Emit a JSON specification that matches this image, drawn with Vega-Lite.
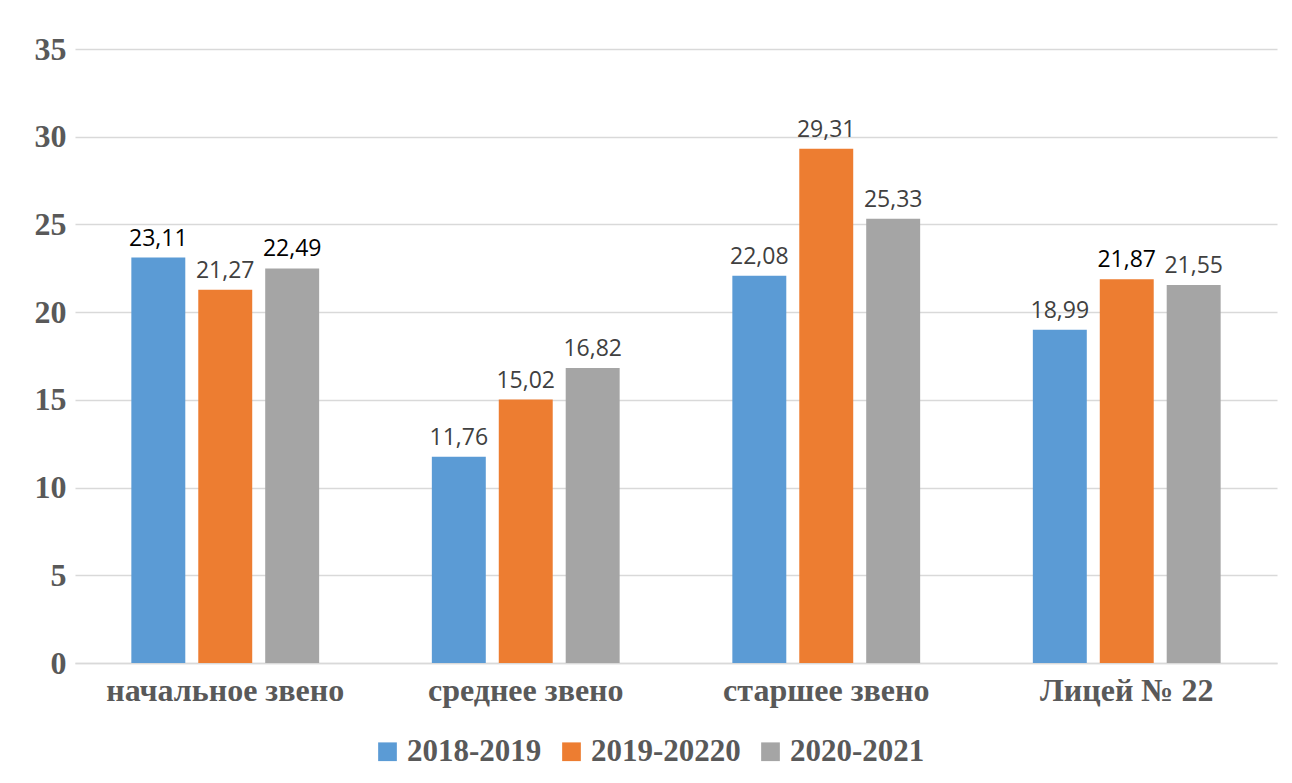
{
  "$schema": "https://vega.github.io/schema/vega-lite/v6.json",
  "width": 1202,
  "height": 614,
  "autosize": {"type": "none"},
  "padding": {"left": 75, "top": 49, "right": 15, "bottom": 120},
  "background": "white",
  "config": {
    "view": {"stroke": null},
    "locale": {"number": {"decimal": ",", "thousands": " ", "grouping": [3], "currency": ["", ""]}}
  },
  "data": {
    "values": [
      {"group": "начальное звено", "year": "2018-2019", "value": 23.11},
      {"group": "начальное звено", "year": "2019-20220", "value": 21.27},
      {"group": "начальное звено", "year": "2020-2021", "value": 22.49},
      {"group": "среднее звено", "year": "2018-2019", "value": 11.76},
      {"group": "среднее звено", "year": "2019-20220", "value": 15.02},
      {"group": "среднее звено", "year": "2020-2021", "value": 16.82},
      {"group": "старшее звено", "year": "2018-2019", "value": 22.08},
      {"group": "старшее звено", "year": "2019-20220", "value": 29.31},
      {"group": "старшее звено", "year": "2020-2021", "value": 25.33},
      {"group": "Лицей № 22", "year": "2018-2019", "value": 18.99},
      {"group": "Лицей № 22", "year": "2019-20220", "value": 21.87},
      {"group": "Лицей № 22", "year": "2020-2021", "value": 21.55}
    ]
  },
  "encoding": {
    "x": {
      "field": "group", "type": "nominal",
      "sort": ["начальное звено", "среднее звено", "старшее звено", "Лицей № 22"],
      "scale": {"paddingInner": 0.375, "paddingOuter": 0.1875},
      "axis": {
        "title": null, "labelAngle": 0, "ticks": false, "labelLimit": 0,
        "domainColor": "#d9d9d9", "domainWidth": 1.5,
        "labelFont": "Liberation Serif", "labelFontWeight": "bold", "labelFontSize": 32,
        "labelColor": "#595959", "labelPadding": 12
      }
    },
    "xOffset": {
      "field": "year", "type": "nominal",
      "sort": ["2018-2019", "2019-20220", "2020-2021"],
      "scale": {"paddingInner": 0.194, "paddingOuter": 0}
    },
    "y": {
      "field": "value", "type": "quantitative",
      "scale": {"domain": [0, 35], "nice": false},
      "axis": {
        "title": null, "values": [0, 5, 10, 15, 20, 25, 30, 35],
        "domain": false, "ticks": false,
        "grid": true, "gridColor": "#d9d9d9", "gridWidth": 1.5,
        "labelFont": "Liberation Serif", "labelFontWeight": "bold", "labelFontSize": 32,
        "labelColor": "#595959", "labelPadding": 9
      }
    }
  },
  "layer": [
    {
      "mark": {"type": "bar"},
      "encoding": {
        "color": {
          "field": "year", "type": "nominal",
          "sort": ["2018-2019", "2019-20220", "2020-2021"],
          "scale": {"range": ["#5B9BD5", "#ED7D31", "#A5A5A5"]},
          "legend": {
            "orient": "none", "legendX": 297, "legendY": 687,
            "title": null, "direction": "horizontal",
            "symbolType": "square", "symbolSize": 350, "symbolStrokeWidth": 0,
            "labelFont": "Liberation Serif", "labelFontWeight": "bold", "labelFontSize": 31,
            "labelColor": "#595959", "columnPadding": 14, "labelOffset": 4, "labelLimit": 0
          }
        }
      }
    },
    {
      "mark": {"type": "text", "font": "Open Sans", "fontSize": 23, "baseline": "alphabetic", "dy": -12},
      "encoding": {
        "text": {"field": "value", "type": "quantitative", "format": ".2f"},
        "color": {
          "condition": {"test": "datum.value == 23.11 || datum.value == 22.49 || datum.value == 21.87", "value": "#000000"},
          "value": "#404040"
        }
      }
    }
  ]
}
